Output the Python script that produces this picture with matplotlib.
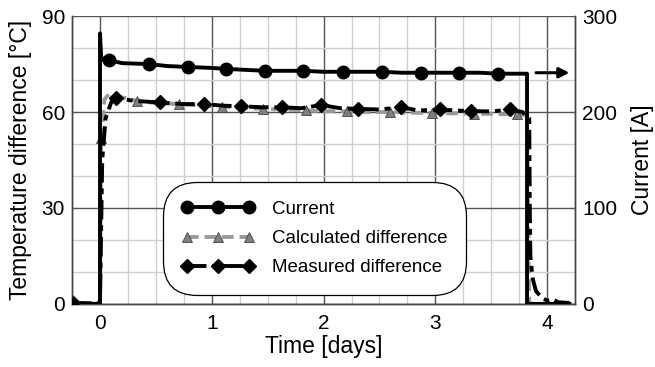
import matplotlib
matplotlib.use("Agg")
import matplotlib.pyplot as plt
from matplotlib.ticker import MultipleLocator

plt.rcParams['font.family'] = ['Liberation Sans', 'DejaVu Sans']

# ---- data ----
current_t = [-0.25, -0.2, -0.1, -0.02, 0.0, 0.0, 0.01, 0.03, 0.08, 0.2, 0.44, 0.6, 0.79, 1.0,
             1.13, 1.3, 1.48, 1.65, 1.82, 2.0, 2.17, 2.35, 2.52, 2.7, 2.87, 3.05, 3.21, 3.4,
             3.56, 3.7, 3.82, 3.82, 3.9, 4.2]
current_a = [0, 0, 0, 0, 0, 282, 258, 254, 254, 251, 250, 248, 247, 246,
             245, 244, 243, 243, 243, 242, 242, 242, 242, 241, 241, 241, 241, 241,
             240, 240, 240, 0, 0, 0]
current_marks = [0, 8, 10, 12, 14, 16, 18, 20, 22, 24, 26, 28]

calc_t = [-0.25, -0.1, 0.0, 0.01, 0.04, 0.08, 0.15, 0.33, 0.5, 0.71, 0.9, 1.09, 1.3, 1.46,
          1.65, 1.84, 2.0, 2.21, 2.4, 2.59, 2.8, 2.97, 3.15, 3.35, 3.55, 3.73, 3.82, 3.84,
          3.9, 4.2]
calc_c = [0, 0, 0, 52, 64, 65.5, 65, 63.5, 62.8, 62.5, 62, 61.7, 61.2, 61,
          60.8, 60.5, 60.3, 60.2, 60, 60, 59.8, 59.7, 59.6, 59.5, 59.4, 59.3, 59, 0,
          0, 0]
calc_marks = [3, 7, 9, 11, 13, 15, 17, 19, 21, 23, 25]

meas_t = [-0.25, -0.2, -0.1, -0.02, 0.0, 0.02, 0.05, 0.1, 0.14, 0.3, 0.54, 0.75, 0.93, 1.1,
          1.26, 1.45, 1.63, 1.8, 1.98, 2.15, 2.31, 2.5, 2.69, 2.85, 3.04, 3.18, 3.32, 3.5,
          3.67, 3.78, 3.84, 3.845, 3.85, 3.87, 3.9, 3.95, 4.0, 4.05, 4.1, 4.2]
meas_c = [0.5, 0.3, 0.2, 0.3, 0.5, 45, 58, 63, 64.5, 63.5, 63, 62.5, 62.5, 62,
          61.8, 61.5, 61.5, 61.2, 62.2, 61.2, 61, 60.8, 61.5, 60.5, 60.8, 60.5, 60.3, 60.2,
          60.8, 60, 58, 30, 15, 8, 4, 2, 1, 1.5, 0.5, 0.3]
meas_marks = [0, 8, 10, 12, 14, 16, 18, 20, 22, 24, 26, 28]

arrow_t = [3.9, 4.2]
arrow_level = 241

x_ticks = [0, 1, 2, 3, 4]
y_ticks = [0, 30, 60, 90]
y2_ticks = [0, 100, 200, 300]

# ---- figure ----
fig = plt.figure(figsize=(6.55, 3.67), dpi=100)
ax = fig.add_axes([0.110, 0.172, 0.768, 0.784])
ax2 = ax.twinx()

ax.set_xlim(-0.25, 4.25)
ax.set_ylim(0, 90)
ax2.set_ylim(0, 300)
ax.set_xticks(x_ticks)
ax.set_yticks(y_ticks)
ax2.set_yticks(y2_ticks)
ax.xaxis.set_minor_locator(MultipleLocator(0.25))
ax.yaxis.set_minor_locator(MultipleLocator(10))

ax.grid(which='minor', color='#cfcfcf', lw=1.0)
ax.grid(which='major', color='#555555', lw=1.0)
ax.set_axisbelow(True)

for a in (ax, ax2):
    a.tick_params(which='both', direction='in', length=3, labelsize=15, color='#555555', pad=5)
    a.tick_params(which='minor', length=0)
    for s in a.spines.values():
        s.set_color('#444444')
        s.set_linewidth(1.0)
ax.tick_params(axis='x', pad=7)
ax.spines['top'].set_visible(False)
ax2.spines['top'].set_visible(False)

l_calc, = ax.plot(calc_t, calc_c, color='#9a9a9a', lw=2.8, ls=(0, (3, 1.5)),
                  marker='^', markevery=calc_marks, markersize=7,
                  markerfacecolor='#7f7f7f', markeredgecolor='#444444', markeredgewidth=0.6,
                  label='Calculated difference', zorder=3)
l_meas, = ax.plot(meas_t, meas_c, color='black', lw=2.8, ls=(0, (5, 1.5, 1.5, 1.5)),
                  marker='D', markevery=meas_marks, markersize=7,
                  markerfacecolor='black', markeredgecolor='black',
                  label='Measured difference', zorder=4)
l_cur, = ax2.plot(current_t, current_a, color='black', lw=2.8,
                  marker='o', markevery=current_marks, markersize=9,
                  markerfacecolor='black', markeredgecolor='black',
                  label='Current', zorder=5)

ax2.annotate('', xy=(arrow_t[1], arrow_level), xytext=(arrow_t[0], arrow_level),
             arrowprops=dict(arrowstyle='-|>,head_length=0.6,head_width=0.3',
                             color='black', lw=2.2, shrinkA=0, shrinkB=0))

ax.set_xlabel('Time [days]', fontsize=16.5, labelpad=2)
ax.set_ylabel('Temperature difference [°C]', fontsize=16.5, labelpad=7)
ax2.set_ylabel('Current [A]', fontsize=16.5, labelpad=10)

leg = ax2.legend(handles=[l_cur, l_calc, l_meas], loc='upper left',
                 bbox_to_anchor=(0.181, 0.424), borderaxespad=0,
                 numpoints=3, fontsize=13.5, handlelength=3.9, handletextpad=0.9,
                 labelspacing=0.65, borderpad=1.0, framealpha=1, edgecolor='black',
                 fancybox=True)
leg.get_frame().set_linewidth(0.9)
leg.get_frame().set_boxstyle('round,pad=0,rounding_size=1.8')

fig.savefig('out.png', dpi=100)
